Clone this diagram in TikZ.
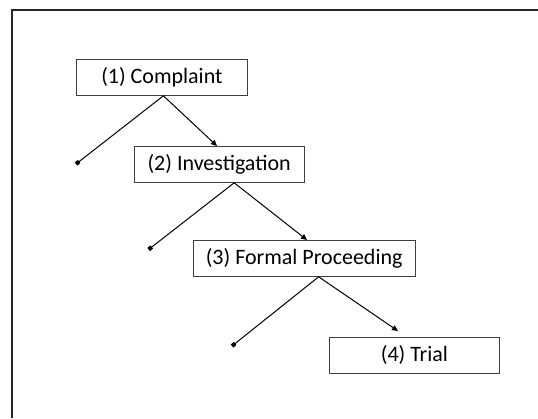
\documentclass[tikz,border=0pt]{standalone}
\usepackage{fontspec}
\setmainfont{Carlito}
\usetikzlibrary{arrows.meta}
\begin{document}
\begin{tikzpicture}[x=1pt,y=-1pt,
  stagebox/.style={draw=black!75,line width=0.8pt,fill=white,minimum height=36pt,inner sep=0pt,font=\fontsize{22}{26}\selectfont,anchor=north west},
  conn/.style={line width=1pt,black},
  flow/.style={conn,-{Triangle[length=6pt,width=5.5pt]}},
  drop/.style={conn,-{Square[length=4pt,width=4pt]}}]
\useasboundingbox (0,0) rectangle (538,418);
\draw[line width=1.6pt,black!85] (12,418) -- (12,10) -- (538,10);
\node[stagebox,minimum width=171pt] (b1) at (76,59) {(1) Complaint};
\node[stagebox,minimum width=170.5pt] (b2) at (133.5,146) {(2) Investigation};
\node[stagebox,minimum width=221.5pt] (b3) at (193,240) {(3) Formal Proceeding};
\node[stagebox,minimum width=170pt] (b4) at (329,336.6) {(4) Trial};
\coordinate (d1) at (76,164);
\coordinate (d2) at (148.6,249.5);
\coordinate (d3) at (232,346);
\coordinate (t2) at (217,146);
\coordinate (t3) at (307,240);
\coordinate (t4) at (398,331);
\draw[drop] ([xshift=1.5pt]b1.south) -- (d1);
\draw[flow] ([xshift=1.5pt]b1.south) -- (t2);
\draw[drop] ([xshift=15pt]b2.south) -- (d2);
\draw[flow] ([xshift=15pt]b2.south) -- (t3);
\draw[drop] ([xshift=14.5pt]b3.south) -- (d3);
\draw[flow] ([xshift=14.5pt]b3.south) -- (t4);
\end{tikzpicture}
\end{document}
